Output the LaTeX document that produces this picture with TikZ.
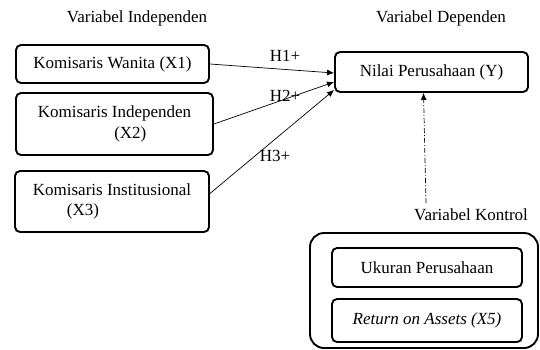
\documentclass[tikz,border=0pt]{standalone}
\usepackage{fontspec}
\setmainfont{Liberation Serif}
\usetikzlibrary{arrows.meta,positioning}

\begin{document}
\begin{tikzpicture}[x=1pt,y=-1pt,
  font=\rmfamily\fontsize{17}{20.5}\selectfont,
  varbox/.style={rectangle,draw,line width=1.9pt,rounded corners=5pt,inner sep=2pt},
  ctrlbox/.style={rectangle,draw,line width=1.9pt,rounded corners=14pt},
  title/.style={inner sep=1pt},
  arr/.style={-{Latex[length=7pt,width=6pt]},line width=0.7pt},
  ctrl/.style={-{Latex[length=7pt,width=6pt]},line width=0.7pt,dash pattern=on 5pt off 2pt on 1pt off 2pt}]
\useasboundingbox (0,0) rectangle (540,349);
% judul kolom
\node [title] (tind) at (137,18) {Variabel Independen};
\node [title] (tdep) at (441,18) {Variabel Dependen};
\node [title] (tkon) at (471,215) {Variabel Kontrol};
% variabel independen
\node [varbox,minimum width=193,minimum height=38] (x1) at (112.5,64) {Komisaris Wanita (X1)};
\node [varbox,minimum width=197,minimum height=62,align=left] (x2) at (114.5,124) {Komisaris Independen\\\hspace*{4.5em}(X2)};
\node [varbox,minimum width=194,minimum height=61,align=left] (x3) at (112,201.5) {Komisaris Institusional\\\hspace*{2em}(X3)};
% variabel dependen
\node [varbox,minimum width=193,minimum height=40] (y) at (431.5,72) {Nilai Perusahaan (Y)};
% variabel kontrol
\node [ctrlbox,minimum width=228,minimum height=115] (kontrol) at (424,290.5) {};
\node [varbox,minimum width=190,minimum height=39] (ukuran) at (427,267.5) {Ukuran Perusahaan};
\node [varbox,minimum width=190,minimum height=43] (roa) at (427,320.5) {\itshape Return on Assets (X5)};
% hipotesis
\draw [arr] (x1.east) -- ([yshift=-1]y.west);
\draw [arr] (x2.east) -- ([yshift=-10]y.west);
\draw [arr] ([yshift=8]x3.east) -- ([yshift=-18]y.west);
\node (h1) at (285,56) {H1+};
\node (h2) at (285,96) {H2+};
\node (h3) at (275,156) {H3+};
\coordinate (kfoot) at (426,203);
\draw [ctrl] (kfoot) -- ([xshift=-8]y.south);
\end{tikzpicture}
\end{document}
